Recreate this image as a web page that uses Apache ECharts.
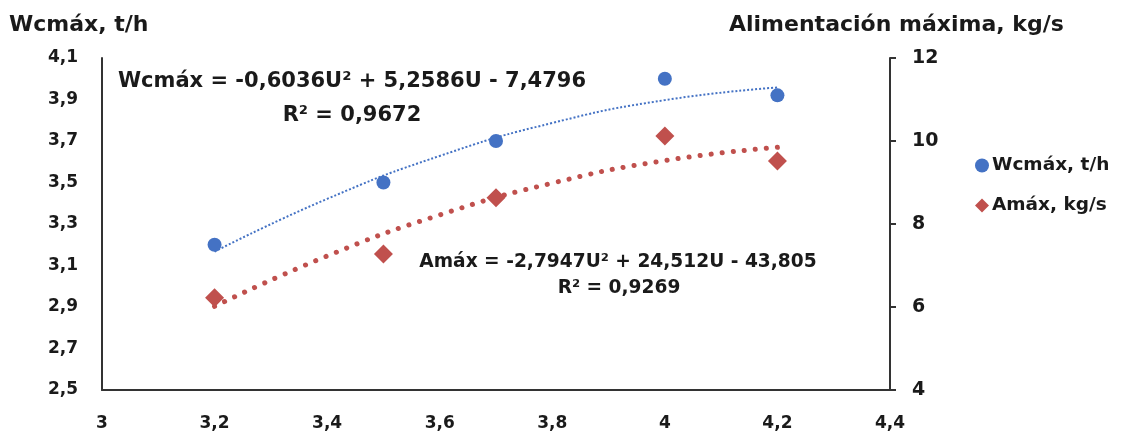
<!DOCTYPE html>
<html>
<head>
<meta charset="utf-8">
<script src="https://cdn.jsdelivr.net/npm/echarts@6/dist/echarts.min.js"></script>
<style>
  html, body { margin: 0; padding: 0; background: #fff; }
  #chart-main { width: 1128px; height: 436px; }
</style>
</head>
<body>
<div id="chart-main"></div>
<script>
// measured points (U values on x)
const uValues = [3.2, 3.5, 3.7, 4.0, 4.2]
const wcmax = [3.2, 3.5, 3.7, 4.0, 3.92]
const amax = [6.22, 7.28, 8.63, 10.12, 9.52]

// trendline points
const trendU = [3.2, 3.4, 3.6, 3.8, 4.0, 4.2]
const wcmaxTrend = [3.167, 3.421, 3.628, 3.787, 3.897, 3.958]
const amaxTrend = [6.015, 7.229, 8.219, 8.985, 9.528, 9.847]

const xTicks = ['3', '3,2', '3,4', '3,6', '3,8', '4', '4,2', '4,4']

const zip = (xs, ys) => xs.map((x, i) => [x, ys[i]])
const comma = (v) => String(Math.round(v * 10) / 10).replace('.', ',')

const blue = '#4472c4'
const red = '#c0504d'
const ink = '#1a1a1a'
const font = '"DejaVu Sans", Verdana, sans-serif'
const axisLabel = { color: ink, fontWeight: 'bold', fontSize: 17, fontFamily: font }
const axisLine = { show: true, lineStyle: { color: '#333', width: 2 } }

const myChart = echarts.init(document.getElementById('chart-main'))
myChart.setOption({
  animation: false,
  grid: { left: 102, right: 238, top: 58, bottom: 46 },
  legend: {
    orient: 'vertical',
    left: 970,
    top: 151,
    itemGap: 21,
    itemWidth: 14,
    itemHeight: 14,
    textStyle: { color: ink, fontWeight: 'bold', fontSize: 18.5, fontFamily: font, padding: [0, 0, 0, -2] },
    data: [
      { name: 'Wcmáx, t/h', icon: 'circle' },
      { name: 'Amáx, kg/s', icon: 'diamond' }
    ]
  },
  xAxis: {
    type: 'value',
    min: 3,
    max: 4.4,
    interval: 0.2,
    axisLine,
    axisTick: { show: false },
    splitLine: { show: false },
    axisLabel: { ...axisLabel, margin: 25, formatter: (v) => xTicks[Math.round((v - 3) / 0.2)] }
  },
  yAxis: [
    {
      type: 'value',
      min: 2.5,
      max: 4.1,
      interval: 0.2,
      axisLine,
      axisTick: { show: false },
      splitLine: { show: false },
      axisLabel: { ...axisLabel, margin: 24, formatter: comma }
    },
    {
      type: 'value',
      position: 'right',
      min: 4,
      max: 12,
      interval: 2,
      axisLine,
      axisTick: { show: true, length: 6, lineStyle: { color: '#333', width: 2 } },
      splitLine: { show: false },
      axisLabel: { ...axisLabel, fontSize: 19, margin: 22 }
    }
  ],
  graphic: [
    {
      type: 'text', left: 9, top: 14,
      style: { text: 'Wcmáx, t/h', fill: ink, font: 'bold 22px ' + font }
    },
    {
      type: 'text', left: 729, top: 14,
      style: { text: 'Alimentación máxima, kg/s', fill: ink, font: 'bold 22px ' + font }
    },
    {
      type: 'text', x: 352, y: 82,
      style: { text: 'Wcmáx = -0,6036U² + 5,2586U - 7,4796', fill: ink, font: 'bold 21px ' + font, align: 'center', verticalAlign: 'middle' }
    },
    {
      type: 'text', x: 352, y: 116,
      style: { text: 'R² = 0,9672', fill: ink, font: 'bold 21px ' + font, align: 'center', verticalAlign: 'middle' }
    },
    {
      type: 'text', x: 618, y: 262,
      style: { text: 'Amáx = -2,7947U² + 24,512U - 43,805', fill: ink, font: 'bold 18.6px ' + font, align: 'center', verticalAlign: 'middle' }
    },
    {
      type: 'text', x: 619, y: 288,
      style: { text: 'R² = 0,9269', fill: ink, font: 'bold 18.6px ' + font, align: 'center', verticalAlign: 'middle' }
    }
  ],
  series: [
    {
      name: 'Wcmáx trend',
      type: 'line',
      smooth: true,
      showSymbol: false,
      yAxisIndex: 0,
      lineStyle: { color: blue, width: 2, type: [2, 2] },
      data: zip(trendU, wcmaxTrend),
      z: 1
    },
    {
      name: 'Amáx trend',
      type: 'line',
      smooth: true,
      showSymbol: false,
      yAxisIndex: 1,
      lineStyle: { color: red, width: 5, type: [0.1, 11], cap: 'round' },
      data: zip(trendU, amaxTrend),
      z: 1
    },
    {
      name: 'Wcmáx, t/h',
      type: 'scatter',
      yAxisIndex: 0,
      symbol: 'circle',
      symbolSize: 14,
      itemStyle: { color: blue, opacity: 1 },
      data: zip(uValues, wcmax),
      z: 3
    },
    {
      name: 'Amáx, kg/s',
      type: 'scatter',
      yAxisIndex: 1,
      symbol: 'diamond',
      symbolSize: 19,
      itemStyle: { color: red, opacity: 1 },
      data: zip(uValues, amax),
      z: 3
    }
  ]
})
</script>
</body>
</html>
